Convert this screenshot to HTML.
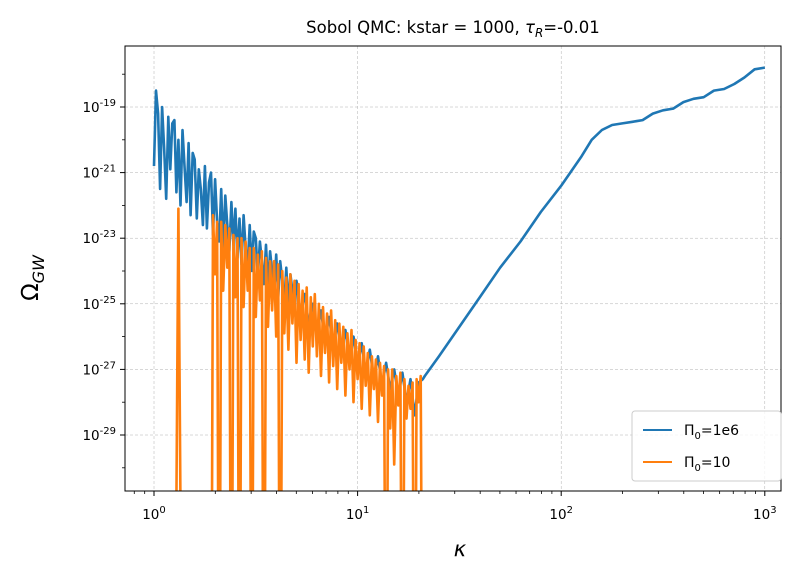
<!DOCTYPE html>
<html><head><meta charset="utf-8"><style>
html,body{margin:0;padding:0;background:#fff;overflow:hidden;width:808px;height:577px;}
svg{display:block;overflow:hidden;font-family:"DejaVu Sans","Liberation Sans",sans-serif;}
</style></head><body>
<svg id="chart" width="808" height="577" viewBox="0 0 808 577" xmlns="http://www.w3.org/2000/svg">
<defs><clipPath id="clip"><rect x="125" y="46" width="656" height="445"/></clipPath></defs>
<rect x="0" y="0" width="808" height="577" fill="#fff"/>
<g id="grid"></g>
<g id="series" clip-path="url(#clip)"></g>
<rect x="125" y="46" width="656" height="445" fill="none" stroke="#000" stroke-width="1"/>
<g id="axes"></g>
<text x="453" y="33" font-size="16.5" text-anchor="middle">Sobol QMC: kstar = 1000, <tspan font-style="italic">τ</tspan><tspan font-style="italic" font-size="12" dy="4">R</tspan><tspan dy="-4">=-0.01</tspan></text>
<text x="460" y="556" font-size="21" font-style="italic" text-anchor="middle">κ</text>
<text transform="translate(38,278) rotate(-90)" font-size="23" text-anchor="middle">Ω<tspan font-style="italic" font-size="16" dy="6">GW</tspan></text>
<g>
<rect x="632" y="411" width="149" height="70" rx="3" fill="#fff" fill-opacity="0.8" stroke="#ccc"/>
<line x1="643" y1="430" x2="672" y2="430" stroke="#1f77b4" stroke-width="2"/>
<text x="684" y="435" font-size="14">Π<tspan font-size="10" dy="4">0</tspan><tspan dy="-4">=1e6</tspan></text>
<line x1="643" y1="462" x2="672" y2="462" stroke="#ff7f0e" stroke-width="2"/>
<text x="684" y="467" font-size="14">Π<tspan font-size="10" dy="4">0</tspan><tspan dy="-4">=10</tspan></text>
</g>
</svg>
<script>
// blue noisy part: first segment sampled every 0.01 in log10(kappa) from 0, second every 0.02 from 0.72
const blueNoisyA=[-20.8,-18.5,-19.2,-21.5,-19.0,-20.3,-21.8,-19.3,-20.9,-19.5,-19.4,-21.6,-20.0,-22.0,-19.7,-20.8,-21.9,-20.1,-22.3,-20.4,-20.6,-22.4,-20.9,-21.5,-22.6,-20.8,-22.7,-21.3,-21.0,-22.9,-21.2,-22.5,-23.1,-21.5,-23.3,-21.7,-22.6,-23.4,-21.9,-23.2,-22.1,-23.6,-22.4,-23.8,-22.3,-23.3,-23.9,-22.6,-24.0,-22.8,-23.0,-24.2,-23.1,-23.7,-24.4,-23.2,-24.5,-23.4,-24.0,-24.7,-23.5,-24.8,-23.7,-24.3,-25.0,-23.9,-25.1,-24.1,-24.6,-25.3,-24.3];
const blueNoisyB=[-25.3,-24.7,-25.6,-25.0,-25.9,-25.2,-26.1,-25.4,-26.3,-25.6,-26.5,-25.8,-26.7,-26.0,-26.9,-26.2,-27.1,-26.4,-27.3,-26.6,-27.5,-26.8,-27.6,-27.0,-27.8,-27.1,-28.0,-27.3,-28.4,-27.4,-27.3];
const blueSmoothLogK=[1.33,1.4,1.5,1.6,1.7,1.8,1.9,2.0,2.1,2.15,2.2,2.25,2.3,2.35,2.4,2.45,2.5,2.55,2.6,2.65,2.7,2.75,2.8,2.85,2.9,2.95,3.0];
const blueSmoothLogOmega=[-27.2,-26.6,-25.7,-24.8,-23.9,-23.1,-22.2,-21.4,-20.5,-20.0,-19.7,-19.55,-19.5,-19.45,-19.4,-19.2,-19.1,-19.05,-18.85,-18.75,-18.7,-18.5,-18.45,-18.3,-18.1,-17.85,-17.8];
// orange: isolated spike near kappa=1.3, then dense segment every 0.01 from 0.28; -40 = drop below axis
const orangeSpikeLogK=[0.10,0.12,0.14];
const orangeSpikeLogOmega=[-40,-22.1,-40];
const orangeDense=[-40,-22.3,-24.1,-22.5,-40,-22.5,-24.6,-22.6,-23.9,-22.7,-40,-22.9,-24.8,-23.0,-40,-23.0,-25.1,-23.1,-24.6,-23.3,-40,-23.3,-25.4,-23.5,-24.9,-23.4,-40,-23.6,-25.7,-23.7,-25.2,-23.7,-26.0,-23.8,-40,-24.0,-25.9,-24.2,-26.4,-24.1,-25.6,-24.3,-26.8,-24.4,-26.1,-24.6,-26.7,-24.5,-27.1,-24.8,-26.3,-24.7,-26.6,-25.0,-27.2,-25.1,-26.5,-25.3,-27.4,-25.2,-26.9,-25.5,-27.6,-25.6,-26.8,-25.7,-27.8,-25.9,-27.0,-25.8,-28.0,-26.1,-27.3,-26.2,-28.2,-26.3,-27.5,-26.5,-28.4,-26.6,-27.6,-26.7,-28.6,-26.8,-27.8,-26.9,-40,-27.0,-28.8,-27.0,-29.9,-27.2,-28.1,-27.1,-40,-27.3,-28.5,-27.5,-28.2,-27.4,-40,-27.3,-28.0,-27.2,-40];
const xTickExp=[0,1,2,3];
const yTickExp=[-19,-21,-23,-25,-27,-29];

const blueNoisyLogK=blueNoisyA.map((_,i)=>i*0.01).concat(blueNoisyB.map((_,i)=>0.72+i*0.02));
const blueNoisyLogOmega=blueNoisyA.concat(blueNoisyB);
const orangeDenseLogK=orangeDense.map((_,i)=>0.28+i*0.01);

const NS="http://www.w3.org/2000/svg";
const X=lk=>154+203.6*lk;
const Y=L=>107+32.8*(-19-L);
function mk(tag,attrs,parent){const e=document.createElementNS(NS,tag);for(const k in attrs)e.setAttribute(k,attrs[k]);parent.appendChild(e);return e;}
const grid=document.getElementById('grid'),axes=document.getElementById('axes'),series=document.getElementById('series');
xTickExp.forEach(e=>{
  const x=X(e);
  const g=mk('line',{x1:x,x2:x,y1:46,y2:491,stroke:'#b0b0b0','stroke-width':0.5,'stroke-dasharray':'3,2'},grid);
  
  
  mk('line',{x1:x,x2:x,y1:491,y2:496,stroke:'#000'},axes);
  const t=mk('text',{x:x,y:519,'font-size':13.5,'text-anchor':'middle'},axes);
  
  
  t.innerHTML='10<tspan font-size="10" dy="-6">'+e+'</tspan>';
});
for(let d=-1;d<=3;d++){for(let m=2;m<=9;m++){const lk=d+Math.log10(m);const x=X(lk);if(x>125&&x<781)mk('line',{x1:x,x2:x,y1:491,y2:494,stroke:'#000','stroke-width':0.8},axes);}}
for(let e=-18;e>=-30;e-=2){const y=Y(e);mk('line',{x1:122,x2:125,y1:y,y2:y,stroke:'#000','stroke-width':0.8},axes);}
yTickExp.forEach(e=>{
  const y=Y(e);
  const g=mk('line',{x1:125,x2:781,y1:y,y2:y,stroke:'#b0b0b0','stroke-width':0.5,'stroke-dasharray':'3,2'},grid);
  
  
  mk('line',{x1:120,x2:125,y1:y,y2:y,stroke:'#000'},axes);
  const t=mk('text',{x:116,y:y+5,'font-size':13.5,'text-anchor':'end'},axes);
  
  
  t.innerHTML='10<tspan font-size="10" dy="-6">'+e+'</tspan>';
});
function path(xs,ys){let d='',pen=false;for(let i=0;i<xs.length;i++){if(isNaN(ys[i])){pen=false;continue;}d+=(pen?'L':'M')+X(xs[i]).toFixed(1)+','+Y(ys[i]).toFixed(1);pen=true;}return d;}
const b=mk('path',{d:path(blueNoisyLogK.concat(blueSmoothLogK),blueNoisyLogOmega.concat(blueSmoothLogOmega)),fill:'none',stroke:'#1f77b4','stroke-width':2.6,'stroke-linejoin':'round'},series);


const o1=mk('path',{d:path(orangeSpikeLogK,orangeSpikeLogOmega),fill:'none',stroke:'#ff7f0e','stroke-width':2.6,'stroke-linejoin':'round'},series);


const o=mk('path',{d:path(orangeDenseLogK,orangeDense),fill:'none',stroke:'#ff7f0e','stroke-width':2.6,'stroke-linejoin':'round'},series);


</script>
</body></html>
